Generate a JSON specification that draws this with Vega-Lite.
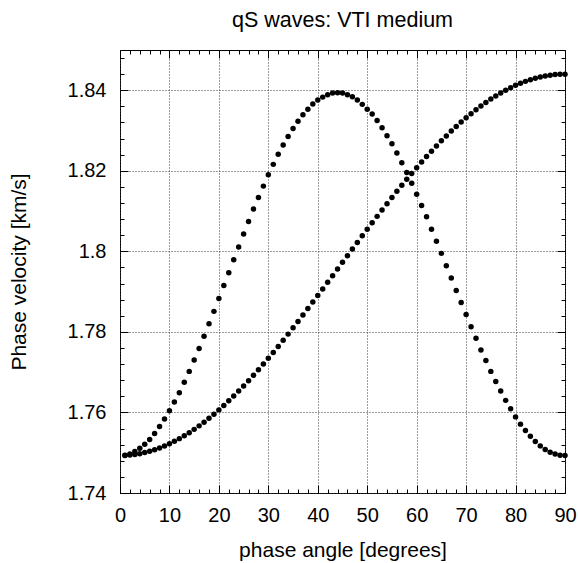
{
  "$schema": "https://vega.github.io/schema/vega-lite/v6.json",
  "autosize": {"type": "none"},
  "width": 445,
  "height": 443,
  "padding": {"left": 120, "top": 50, "right": 13, "bottom": 70},
  "background": "white",
  "title": {"text": "qS waves: VTI medium", "font": "Liberation Sans", "fontSize": 21.5, "fontWeight": "normal", "color": "black", "frame": "group", "anchor": "middle", "baseline": "alphabetic", "offset": 1},
  "config": {
    "view": {"stroke": "black", "strokeWidth": 1},
    "axis": {"domain": false, "tickColor": "black", "tickWidth": 1, "labelColor": "black", "titleColor": "black", "labelFont": "Liberation Sans", "titleFont": "Liberation Sans", "labelFontSize": 20, "titleFontSize": 21, "titleFontWeight": "normal", "gridColor": "#3a3a3a", "gridDash": [1, 2], "gridOpacity": 1, "gridWidth": 1, "labelFlush": false, "labelOverlap": false, "labelBound": false}
  },
  "data": {"values": [
    {"angle":1,"velocity":1.74933,"mode":"SH"},{"angle":2,"velocity":1.74942,"mode":"SH"},{"angle":3,"velocity":1.74957,"mode":"SH"},{"angle":4,"velocity":1.74977,"mode":"SH"},{"angle":5,"velocity":1.75004,"mode":"SH"},
    {"angle":6,"velocity":1.75036,"mode":"SH"},{"angle":7,"velocity":1.75074,"mode":"SH"},{"angle":8,"velocity":1.75118,"mode":"SH"},{"angle":9,"velocity":1.75168,"mode":"SH"},{"angle":10,"velocity":1.75223,"mode":"SH"},
    {"angle":11,"velocity":1.75284,"mode":"SH"},{"angle":12,"velocity":1.7535,"mode":"SH"},{"angle":13,"velocity":1.75421,"mode":"SH"},{"angle":14,"velocity":1.75498,"mode":"SH"},{"angle":15,"velocity":1.7558,"mode":"SH"},
    {"angle":16,"velocity":1.75667,"mode":"SH"},{"angle":17,"velocity":1.75759,"mode":"SH"},{"angle":18,"velocity":1.75856,"mode":"SH"},{"angle":19,"velocity":1.75958,"mode":"SH"},{"angle":20,"velocity":1.76064,"mode":"SH"},
    {"angle":21,"velocity":1.76175,"mode":"SH"},{"angle":22,"velocity":1.7629,"mode":"SH"},{"angle":23,"velocity":1.76409,"mode":"SH"},{"angle":24,"velocity":1.76532,"mode":"SH"},{"angle":25,"velocity":1.76659,"mode":"SH"},
    {"angle":26,"velocity":1.76789,"mode":"SH"},{"angle":27,"velocity":1.76923,"mode":"SH"},{"angle":28,"velocity":1.77061,"mode":"SH"},{"angle":29,"velocity":1.77201,"mode":"SH"},{"angle":30,"velocity":1.77345,"mode":"SH"},
    {"angle":31,"velocity":1.77491,"mode":"SH"},{"angle":32,"velocity":1.7764,"mode":"SH"},{"angle":33,"velocity":1.77792,"mode":"SH"},{"angle":34,"velocity":1.77945,"mode":"SH"},{"angle":35,"velocity":1.78101,"mode":"SH"},
    {"angle":36,"velocity":1.78259,"mode":"SH"},{"angle":37,"velocity":1.78418,"mode":"SH"},{"angle":38,"velocity":1.78579,"mode":"SH"},{"angle":39,"velocity":1.78741,"mode":"SH"},{"angle":40,"velocity":1.78904,"mode":"SH"},
    {"angle":41,"velocity":1.79068,"mode":"SH"},{"angle":42,"velocity":1.79232,"mode":"SH"},{"angle":43,"velocity":1.79397,"mode":"SH"},{"angle":44,"velocity":1.79562,"mode":"SH"},{"angle":45,"velocity":1.79727,"mode":"SH"},
    {"angle":46,"velocity":1.79893,"mode":"SH"},{"angle":47,"velocity":1.80057,"mode":"SH"},{"angle":48,"velocity":1.80221,"mode":"SH"},{"angle":49,"velocity":1.80385,"mode":"SH"},{"angle":50,"velocity":1.80547,"mode":"SH"},
    {"angle":51,"velocity":1.80709,"mode":"SH"},{"angle":52,"velocity":1.80869,"mode":"SH"},{"angle":53,"velocity":1.81027,"mode":"SH"},{"angle":54,"velocity":1.81184,"mode":"SH"},{"angle":55,"velocity":1.81339,"mode":"SH"},
    {"angle":56,"velocity":1.81492,"mode":"SH"},{"angle":57,"velocity":1.81642,"mode":"SH"},{"angle":58,"velocity":1.81791,"mode":"SH"},{"angle":59,"velocity":1.81936,"mode":"SH"},{"angle":60,"velocity":1.82079,"mode":"SH"},
    {"angle":61,"velocity":1.82218,"mode":"SH"},{"angle":62,"velocity":1.82355,"mode":"SH"},{"angle":63,"velocity":1.82488,"mode":"SH"},{"angle":64,"velocity":1.82618,"mode":"SH"},{"angle":65,"velocity":1.82745,"mode":"SH"},
    {"angle":66,"velocity":1.82867,"mode":"SH"},{"angle":67,"velocity":1.82986,"mode":"SH"},{"angle":68,"velocity":1.83101,"mode":"SH"},{"angle":69,"velocity":1.83211,"mode":"SH"},{"angle":70,"velocity":1.83317,"mode":"SH"},
    {"angle":71,"velocity":1.83419,"mode":"SH"},{"angle":72,"velocity":1.83517,"mode":"SH"},{"angle":73,"velocity":1.8361,"mode":"SH"},{"angle":74,"velocity":1.83698,"mode":"SH"},{"angle":75,"velocity":1.83781,"mode":"SH"},
    {"angle":76,"velocity":1.83859,"mode":"SH"},{"angle":77,"velocity":1.83932,"mode":"SH"},{"angle":78,"velocity":1.84001,"mode":"SH"},{"angle":79,"velocity":1.84064,"mode":"SH"},{"angle":80,"velocity":1.84122,"mode":"SH"},
    {"angle":81,"velocity":1.84174,"mode":"SH"},{"angle":82,"velocity":1.84221,"mode":"SH"},{"angle":83,"velocity":1.84263,"mode":"SH"},{"angle":84,"velocity":1.84299,"mode":"SH"},{"angle":85,"velocity":1.8433,"mode":"SH"},
    {"angle":86,"velocity":1.84355,"mode":"SH"},{"angle":87,"velocity":1.84375,"mode":"SH"},{"angle":88,"velocity":1.84389,"mode":"SH"},{"angle":89,"velocity":1.84397,"mode":"SH"},{"angle":90,"velocity":1.844,"mode":"SH"},
    {"angle":1,"velocity":1.7494,"mode":"SV"},{"angle":2,"velocity":1.7497,"mode":"SV"},{"angle":3,"velocity":1.7503,"mode":"SV"},{"angle":4,"velocity":1.7511,"mode":"SV"},{"angle":5,"velocity":1.7521,"mode":"SV"},
    {"angle":6,"velocity":1.7533,"mode":"SV"},{"angle":7,"velocity":1.7548,"mode":"SV"},{"angle":8,"velocity":1.7565,"mode":"SV"},{"angle":9,"velocity":1.7584,"mode":"SV"},{"angle":10,"velocity":1.7604,"mode":"SV"},
    {"angle":11,"velocity":1.7626,"mode":"SV"},{"angle":12,"velocity":1.7649,"mode":"SV"},{"angle":13,"velocity":1.7675,"mode":"SV"},{"angle":14,"velocity":1.7702,"mode":"SV"},{"angle":15,"velocity":1.773,"mode":"SV"},
    {"angle":16,"velocity":1.7759,"mode":"SV"},{"angle":17,"velocity":1.7789,"mode":"SV"},{"angle":18,"velocity":1.782,"mode":"SV"},{"angle":19,"velocity":1.7851,"mode":"SV"},{"angle":20,"velocity":1.7883,"mode":"SV"},
    {"angle":21,"velocity":1.7915,"mode":"SV"},{"angle":22,"velocity":1.7947,"mode":"SV"},{"angle":23,"velocity":1.7979,"mode":"SV"},{"angle":24,"velocity":1.8011,"mode":"SV"},{"angle":25,"velocity":1.8043,"mode":"SV"},
    {"angle":26,"velocity":1.8074,"mode":"SV"},{"angle":27,"velocity":1.8105,"mode":"SV"},{"angle":28,"velocity":1.8134,"mode":"SV"},{"angle":29,"velocity":1.8162,"mode":"SV"},{"angle":30,"velocity":1.819,"mode":"SV"},
    {"angle":31,"velocity":1.8216,"mode":"SV"},{"angle":32,"velocity":1.8241,"mode":"SV"},{"angle":33,"velocity":1.8264,"mode":"SV"},{"angle":34,"velocity":1.8285,"mode":"SV"},{"angle":35,"velocity":1.8305,"mode":"SV"},
    {"angle":36,"velocity":1.8323,"mode":"SV"},{"angle":37,"velocity":1.8339,"mode":"SV"},{"angle":38,"velocity":1.8353,"mode":"SV"},{"angle":39,"velocity":1.8366,"mode":"SV"},{"angle":40,"velocity":1.8376,"mode":"SV"},
    {"angle":41,"velocity":1.8383,"mode":"SV"},{"angle":42,"velocity":1.8389,"mode":"SV"},{"angle":43,"velocity":1.8393,"mode":"SV"},{"angle":44,"velocity":1.8394,"mode":"SV"},{"angle":45,"velocity":1.8393,"mode":"SV"},
    {"angle":46,"velocity":1.8389,"mode":"SV"},{"angle":47,"velocity":1.8384,"mode":"SV"},{"angle":48,"velocity":1.8376,"mode":"SV"},{"angle":49,"velocity":1.8365,"mode":"SV"},{"angle":50,"velocity":1.8353,"mode":"SV"},
    {"angle":51,"velocity":1.8341,"mode":"SV"},{"angle":52,"velocity":1.8325,"mode":"SV"},{"angle":53,"velocity":1.8307,"mode":"SV"},{"angle":54,"velocity":1.8287,"mode":"SV"},{"angle":55,"velocity":1.8267,"mode":"SV"},
    {"angle":56,"velocity":1.8244,"mode":"SV"},{"angle":57,"velocity":1.822,"mode":"SV"},{"angle":58,"velocity":1.8196,"mode":"SV"},{"angle":59,"velocity":1.8169,"mode":"SV"},{"angle":60,"velocity":1.8142,"mode":"SV"},
    {"angle":61,"velocity":1.8114,"mode":"SV"},{"angle":62,"velocity":1.8086,"mode":"SV"},{"angle":63,"velocity":1.8055,"mode":"SV"},{"angle":64,"velocity":1.8025,"mode":"SV"},{"angle":65,"velocity":1.7995,"mode":"SV"},
    {"angle":66,"velocity":1.7964,"mode":"SV"},{"angle":67,"velocity":1.7934,"mode":"SV"},{"angle":68,"velocity":1.7903,"mode":"SV"},{"angle":69,"velocity":1.7873,"mode":"SV"},{"angle":70,"velocity":1.7843,"mode":"SV"},
    {"angle":71,"velocity":1.7813,"mode":"SV"},{"angle":72,"velocity":1.7784,"mode":"SV"},{"angle":73,"velocity":1.7755,"mode":"SV"},{"angle":74,"velocity":1.7729,"mode":"SV"},{"angle":75,"velocity":1.7702,"mode":"SV"},
    {"angle":76,"velocity":1.7677,"mode":"SV"},{"angle":77,"velocity":1.7653,"mode":"SV"},{"angle":78,"velocity":1.763,"mode":"SV"},{"angle":79,"velocity":1.7609,"mode":"SV"},{"angle":80,"velocity":1.7589,"mode":"SV"},
    {"angle":81,"velocity":1.7571,"mode":"SV"},{"angle":82,"velocity":1.7555,"mode":"SV"},{"angle":83,"velocity":1.7541,"mode":"SV"},{"angle":84,"velocity":1.7528,"mode":"SV"},{"angle":85,"velocity":1.7517,"mode":"SV"},
    {"angle":86,"velocity":1.7508,"mode":"SV"},{"angle":87,"velocity":1.7501,"mode":"SV"},{"angle":88,"velocity":1.7497,"mode":"SV"},{"angle":89,"velocity":1.7494,"mode":"SV"},{"angle":90,"velocity":1.7493,"mode":"SV"}
  ]},
  "layer": [
    {
      "mark": {"type": "point", "opacity": 0},
      "encoding": {
        "x": {"field": "angle", "type": "quantitative", "scale": {"domain": [0, 90], "nice": false, "zero": false},
          "axis": {"orient": "bottom", "values": [0,2,4,6,8,10,12,14,16,18,20,22,24,26,28,30,32,34,36,38,40,42,44,46,48,50,52,54,56,58,60,62,64,66,68,70,72,74,76,78,80,82,84,86,88,90], "tickSize": -4, "labels": false, "grid": false, "title": null}},
        "y": {"field": "velocity", "type": "quantitative", "scale": {"domain": [1.74, 1.85], "nice": false, "zero": false},
          "axis": {"orient": "left", "values": [1.74,1.744,1.748,1.752,1.756,1.76,1.764,1.768,1.772,1.776,1.78,1.784,1.788,1.792,1.796,1.8,1.804,1.808,1.812,1.816,1.82,1.824,1.828,1.832,1.836,1.84,1.844,1.848], "tickSize": -4, "labels": false, "grid": false, "title": null}}
      }
    },
    {
      "mark": {"type": "point", "opacity": 0},
      "encoding": {
        "x": {"field": "angle", "type": "quantitative", "scale": {"domain": [0, 90], "nice": false, "zero": false},
          "axis": {"orient": "top", "values": [0,10,20,30,40,50,60,70,80,90], "tickSize": -8, "labels": false, "grid": false, "title": null}},
        "y": {"field": "velocity", "type": "quantitative", "scale": {"domain": [1.74, 1.85], "nice": false, "zero": false},
          "axis": {"orient": "right", "values": [1.74,1.76,1.78,1.8,1.82,1.84], "tickSize": -8, "labels": false, "grid": false, "title": null}}
      }
    },
    {
      "mark": {"type": "point", "opacity": 0},
      "encoding": {
        "x": {"field": "angle", "type": "quantitative", "scale": {"domain": [0, 90], "nice": false, "zero": false},
          "axis": {"orient": "top", "values": [0,2,4,6,8,10,12,14,16,18,20,22,24,26,28,30,32,34,36,38,40,42,44,46,48,50,52,54,56,58,60,62,64,66,68,70,72,74,76,78,80,82,84,86,88,90], "tickSize": -4, "labels": false, "grid": false, "title": null}},
        "y": {"field": "velocity", "type": "quantitative", "scale": {"domain": [1.74, 1.85], "nice": false, "zero": false},
          "axis": {"orient": "right", "values": [1.74,1.744,1.748,1.752,1.756,1.76,1.764,1.768,1.772,1.776,1.78,1.784,1.788,1.792,1.796,1.8,1.804,1.808,1.812,1.816,1.82,1.824,1.828,1.832,1.836,1.84,1.844,1.848], "tickSize": -4, "labels": false, "grid": false, "title": null}}
      }
    },
    {
      "mark": {"type": "circle", "size": 30, "color": "black", "opacity": 1},
      "encoding": {
        "x": {"field": "angle", "type": "quantitative", "scale": {"domain": [0, 90], "nice": false, "zero": false},
          "axis": {"orient": "bottom", "values": [0,10,20,30,40,50,60,70,80,90], "format": "d", "grid": true, "tickSize": -8, "labelPadding": 20, "title": "phase angle [degrees]", "titlePadding": 14}},
        "y": {"field": "velocity", "type": "quantitative", "scale": {"domain": [1.74, 1.85], "nice": false, "zero": false},
          "axis": {"orient": "left", "values": [1.74,1.76,1.78,1.8,1.82,1.84], "format": "~g", "grid": true, "tickSize": -8, "labelPadding": 22, "title": "Phase velocity [km/s]", "titlePadding": 38}},
        "detail": {"field": "mode", "type": "nominal"}
      }
    }
  ],
  "resolve": {"scale": {"x": "independent", "y": "independent"}}
}
